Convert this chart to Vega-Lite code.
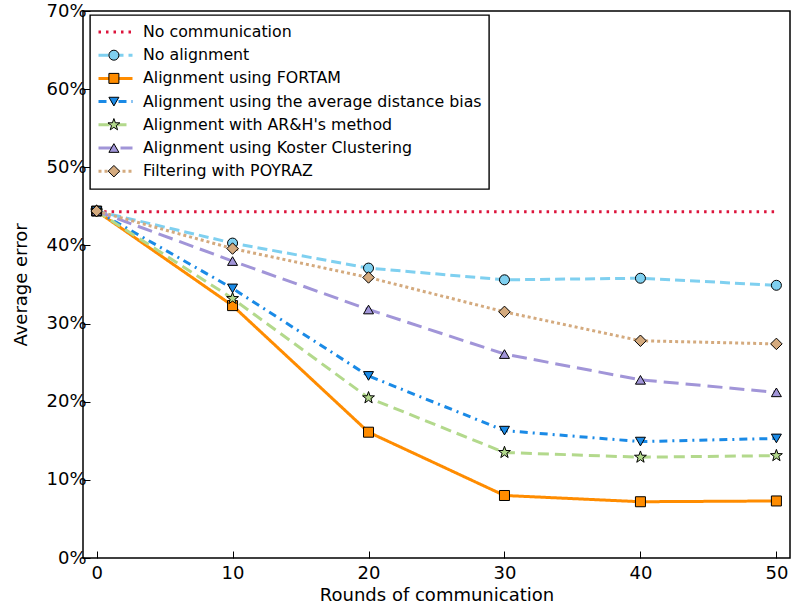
{
  "$schema": "https://vega.github.io/schema/vega-lite/v6.json",
  "width": 707,
  "height": 547,
  "autosize": {"type": "none"},
  "padding": {"left": 83, "top": 11, "right": 3, "bottom": 53},
  "background": "white",
  "config": {
    "font": "DejaVu Sans",
    "view": {"stroke": "black", "strokeWidth": 1.5},
    "legend": {"strokeWidth": 1.4},
    "axis": {"grid": false, "domain": false, "tickColor": "black", "tickSize": -7, "tickWidth": 1, "labelColor": "black", "titleColor": "black", "labelFont": "DejaVu Sans", "titleFont": "DejaVu Sans", "titleFontWeight": "normal", "labelFontSize": 18, "titleFontSize": 18}
  },
  "data": {"values": [
    {"series": "No communication", "x": 0, "y": 44.3},
    {"series": "No communication", "x": 10, "y": 44.3},
    {"series": "No communication", "x": 20, "y": 44.3},
    {"series": "No communication", "x": 30, "y": 44.3},
    {"series": "No communication", "x": 40, "y": 44.3},
    {"series": "No communication", "x": 50, "y": 44.3},
    {"series": "No alignment", "x": 0, "y": 44.4},
    {"series": "No alignment", "x": 10, "y": 40.3},
    {"series": "No alignment", "x": 20, "y": 37.1},
    {"series": "No alignment", "x": 30, "y": 35.6},
    {"series": "No alignment", "x": 40, "y": 35.8},
    {"series": "No alignment", "x": 50, "y": 34.9},
    {"series": "Alignment using FORTAM", "x": 0, "y": 44.4},
    {"series": "Alignment using FORTAM", "x": 10, "y": 32.3},
    {"series": "Alignment using FORTAM", "x": 20, "y": 16.1},
    {"series": "Alignment using FORTAM", "x": 30, "y": 8.0},
    {"series": "Alignment using FORTAM", "x": 40, "y": 7.2},
    {"series": "Alignment using FORTAM", "x": 50, "y": 7.3},
    {"series": "Alignment using the average distance bias", "x": 0, "y": 44.4},
    {"series": "Alignment using the average distance bias", "x": 10, "y": 34.5},
    {"series": "Alignment using the average distance bias", "x": 20, "y": 23.3},
    {"series": "Alignment using the average distance bias", "x": 30, "y": 16.3},
    {"series": "Alignment using the average distance bias", "x": 40, "y": 14.9},
    {"series": "Alignment using the average distance bias", "x": 50, "y": 15.3},
    {"series": "Alignment with AR&H's method", "x": 0, "y": 44.4},
    {"series": "Alignment with AR&H's method", "x": 10, "y": 33.2},
    {"series": "Alignment with AR&H's method", "x": 20, "y": 20.5},
    {"series": "Alignment with AR&H's method", "x": 30, "y": 13.5},
    {"series": "Alignment with AR&H's method", "x": 40, "y": 12.9},
    {"series": "Alignment with AR&H's method", "x": 50, "y": 13.1},
    {"series": "Alignment using Koster Clustering", "x": 0, "y": 44.4},
    {"series": "Alignment using Koster Clustering", "x": 10, "y": 38.0},
    {"series": "Alignment using Koster Clustering", "x": 20, "y": 31.8},
    {"series": "Alignment using Koster Clustering", "x": 30, "y": 26.1},
    {"series": "Alignment using Koster Clustering", "x": 40, "y": 22.8},
    {"series": "Alignment using Koster Clustering", "x": 50, "y": 21.2},
    {"series": "Filtering with POYRAZ", "x": 0, "y": 44.4},
    {"series": "Filtering with POYRAZ", "x": 10, "y": 39.6},
    {"series": "Filtering with POYRAZ", "x": 20, "y": 35.9},
    {"series": "Filtering with POYRAZ", "x": 30, "y": 31.5},
    {"series": "Filtering with POYRAZ", "x": 40, "y": 27.8},
    {"series": "Filtering with POYRAZ", "x": 50, "y": 27.4}
  ]},
  "layer": [
    {
      "mark": {"type": "line", "strokeWidth": 3},
      "encoding": {
        "x": {"field": "x", "type": "quantitative", "scale": {"domain": [-1, 51], "nice": false, "zero": false},
              "axis": {"values": [0, 10, 20, 30, 40, 50], "title": "Rounds of communication", "labelPadding": 13, "titlePadding": 4}},
        "y": {"field": "y", "type": "quantitative", "scale": {"domain": [0, 70], "nice": false},
              "axis": {"values": [0, 10, 20, 30, 40, 50, 60, 70], "labelExpr": "datum.value + '%'", "title": "Average error", "labelPadding": 4, "titleX": -53, "titleY": 273.5, "titleBaseline": "bottom"}},
        "color": {"field": "series", "type": "nominal",
          "scale": {"domain": ["No communication", "No alignment", "Alignment using FORTAM", "Alignment using the average distance bias", "Alignment with AR&H's method", "Alignment using Koster Clustering", "Filtering with POYRAZ"],
                    "range": ["#dc143c", "#7fd0f0", "#ff8c00", "#1a8ae6", "#b3d98c", "#a195d8", "#d4aa7e"]},
          "legend": {"orient": "none", "legendX": 7, "legendY": 4, "title": null, "fillColor": "white", "strokeColor": "black", "padding": 7, "cornerRadius": 0, "symbolType": "stroke", "symbolSize": 1156, "symbolStrokeWidth": 3, "clipHeight": 20, "labelFontSize": 15.8, "labelFont": "DejaVu Sans", "labelColor": "black", "labelOffset": 9, "rowPadding": 3.2, "zindex": 1, "symbolOpacity": 1, "labelLimit": 500}},
        "strokeDash": {"field": "series", "type": "nominal",
          "scale": {"domain": ["No communication", "No alignment", "Alignment using FORTAM", "Alignment using the average distance bias", "Alignment with AR&H's method", "Alignment using Koster Clustering", "Filtering with POYRAZ"],
                    "range": [[2.5, 5], [10, 5], [1, 0], [8, 5, 2, 5], [11, 6], [15, 7], [3, 3]]},
          "legend": {"orient": "none", "legendX": 7, "legendY": 4, "title": null, "fillColor": "white", "strokeColor": "black", "padding": 7, "cornerRadius": 0, "symbolType": "stroke", "symbolSize": 1156, "symbolStrokeWidth": 3, "clipHeight": 20, "labelFontSize": 15.8, "labelFont": "DejaVu Sans", "labelColor": "black", "labelOffset": 9, "rowPadding": 3.2, "zindex": 1, "symbolOpacity": 1, "labelLimit": 500}}
      }
    },
    {
      "transform": [{"filter": "datum.series !== 'No communication'"}, {"calculate": "datum.series + ' '", "as": "marker"}],
      "mark": {"type": "point", "filled": true, "stroke": "black", "strokeWidth": 1, "size": 100, "opacity": 1},
      "encoding": {
        "x": {"field": "x", "type": "quantitative"},
        "y": {"field": "y", "type": "quantitative"},
        "fill": {"field": "marker", "type": "nominal",
          "scale": {"domain": ["No communication ", "No alignment ", "Alignment using FORTAM ", "Alignment using the average distance bias ", "Alignment with AR&H's method ", "Alignment using Koster Clustering ", "Filtering with POYRAZ "],
                    "range": ["transparent", "#7fd0f0", "#ff8c00", "#1a8ae6", "#b3d98c", "#a195d8", "#d4aa7e"]},
          "legend": {"orient": "none", "legendX": 16, "legendY": 4, "title": null, "padding": 7, "strokeColor": "transparent", "symbolSize": 100, "symbolStrokeColor": "black", "symbolStrokeWidth": 1, "clipHeight": 20, "labelExpr": "''", "labelFontSize": 15.8, "labelFont": "DejaVu Sans", "labelOffset": 9, "rowPadding": 3.2, "zindex": 2, "symbolOpacity": 1,
                     "encode": {"symbols": {"update": {"stroke": {"value": "black"}, "strokeWidth": {"value": 1}}}}}},
        "shape": {"field": "marker", "type": "nominal",
          "scale": {"domain": ["No communication ", "No alignment ", "Alignment using FORTAM ", "Alignment using the average distance bias ", "Alignment with AR&H's method ", "Alignment using Koster Clustering ", "Filtering with POYRAZ "],
                    "range": ["M0,0", "circle", "square", "triangle-down", "M0,-1.25L0.294,-0.405L1.189,-0.386L0.475,0.155L0.735,1.011L0,0.5L-0.735,1.011L-0.475,0.155L-1.189,-0.386L-0.294,-0.405Z", "triangle-up", "M0,-1.15L1.15,0L0,1.15L-1.15,0Z"]},
          "legend": {"orient": "none", "legendX": 16, "legendY": 4, "title": null, "padding": 7, "strokeColor": "transparent", "symbolSize": 100, "symbolStrokeColor": "black", "symbolStrokeWidth": 1, "clipHeight": 20, "labelExpr": "''", "labelFontSize": 15.8, "labelFont": "DejaVu Sans", "labelOffset": 9, "rowPadding": 3.2, "zindex": 2, "symbolOpacity": 1,
                     "encode": {"symbols": {"update": {"stroke": {"value": "black"}, "strokeWidth": {"value": 1}}}}}}
      }
    }
  ]
}
